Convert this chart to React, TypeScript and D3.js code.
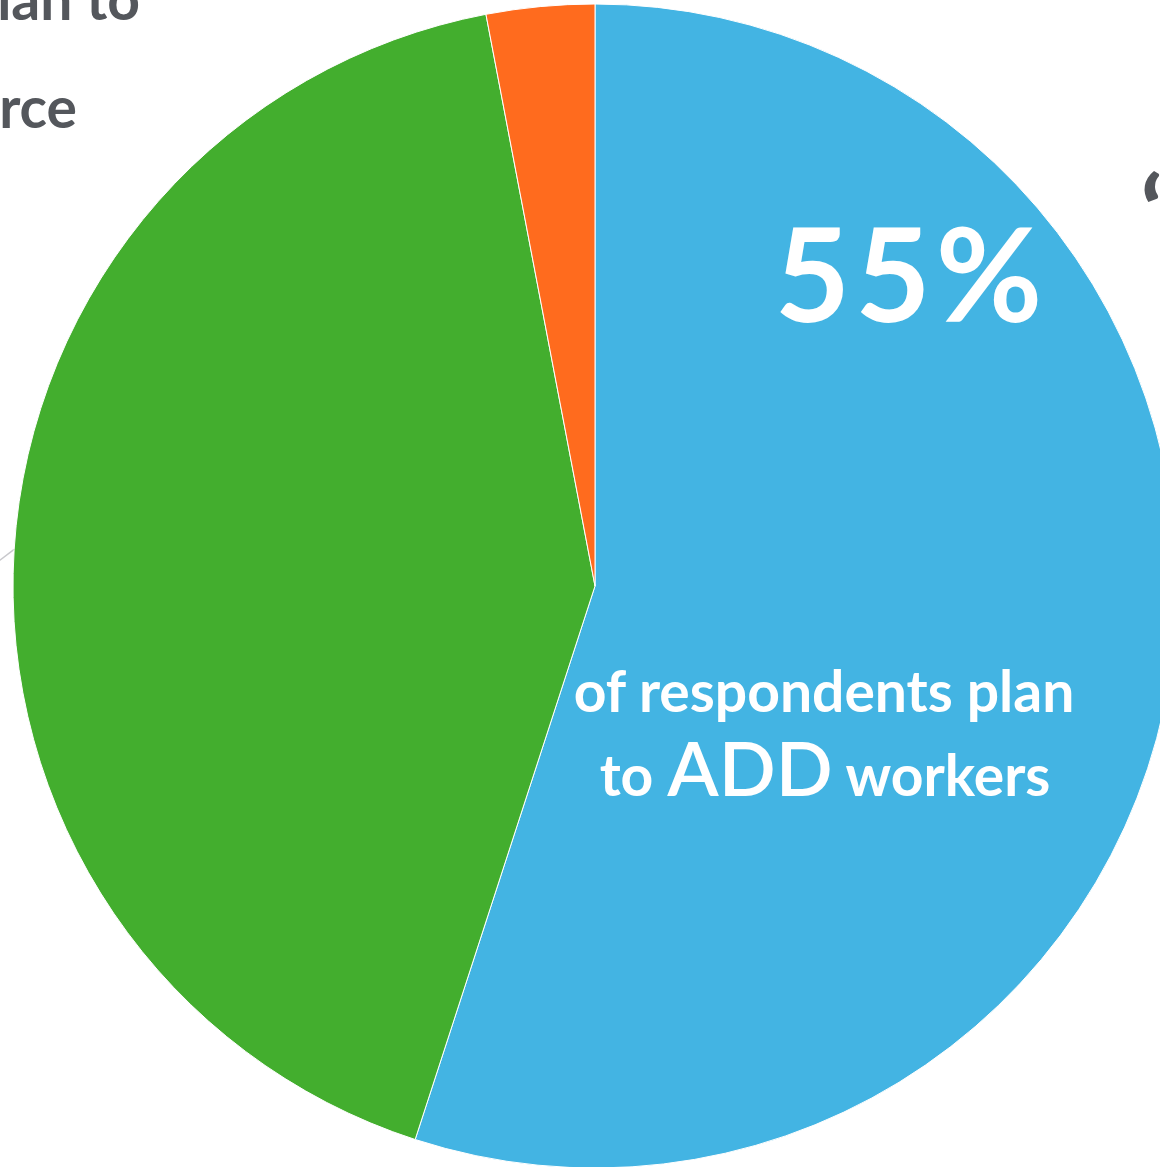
import React from "react";
import * as d3 from "d3";

const categories = ["Add workers", "Keep workforce", "Reduce workers"];
const values = [55, 42, 3];
const colors = ["#43B4E3", "#43AE2E", "#FF6B1E"];
const mainPct = "55%";
const mainLine1 = "of respondents plan";
const mainLine2a = "to ";
const mainLine2b = "ADD";
const mainLine2c = " workers";
const leftLine1 = "of respondents plan to";
const leftLine2 = "maintain their workforce";

const W = 1160;
const H = 1167;
const FONT = "Lato, 'Open Sans', sans-serif";

export default function App() {
  const cx = 595;
  const cy = 586;
  const r = 582;
  const pie = d3.pie<number>().sort(null).value((d) => d);
  const arcs = pie(values);
  const arcGen = d3.arc<d3.PieArcDatum<number>>().innerRadius(0).outerRadius(r);
  const green = arcs[1];
  const mid = (green.startAngle + green.endAngle) / 2;
  const ex = Math.sin(mid) * r;
  const ey = -Math.cos(mid) * r;
  return (
    <svg
      width={W}
      height={H}
      style={{ position: "absolute", left: 0, top: 0, display: "block", background: "#fff" }}
    >
      <g transform={`translate(${cx},${cy})`}>
        <line x1={ex} y1={ey} x2={ex - 40} y2={ey + 30} stroke="#c8c8cc" strokeWidth={1.5} />
        {arcs.map((a, i) => (
          <path key={categories[i]} d={arcGen(a) || ""} fill={colors[i]} stroke="#ffffff" strokeWidth={1} />
        ))}
      </g>
      <text x={911} y={322} textAnchor="middle" fill="#fff" fontFamily={FONT} fontWeight={700} fontSize={130} letterSpacing={5}>
        {mainPct}
      </text>
      <text x={824} y={712} textAnchor="middle" fill="#fff" fontFamily={FONT} fontWeight={700} fontSize={57}>
        {mainLine1}
      </text>
      <text x={825} y={796} textAnchor="middle" fill="#fff" fontFamily={FONT} fontWeight={700} fontSize={57}>
        {mainLine2a}
        <tspan fontSize={75} fontWeight={600}>{mainLine2b}</tspan>
        {mainLine2c}
      </text>
      <text x={140} y={20} textAnchor="end" fill="#54575C" fontFamily={FONT} fontWeight={700} fontSize={57}>
        {leftLine1}
      </text>
      <text x={77} y={128} textAnchor="end" fill="#54575C" fontFamily={FONT} fontWeight={700} fontSize={57}>
        {leftLine2}
      </text>
      <text x={1141} y={246} fill="#54575C" fontFamily={FONT} fontWeight={900} fontSize={96}>
        {"\u201C"}
      </text>
    </svg>
  );
}
